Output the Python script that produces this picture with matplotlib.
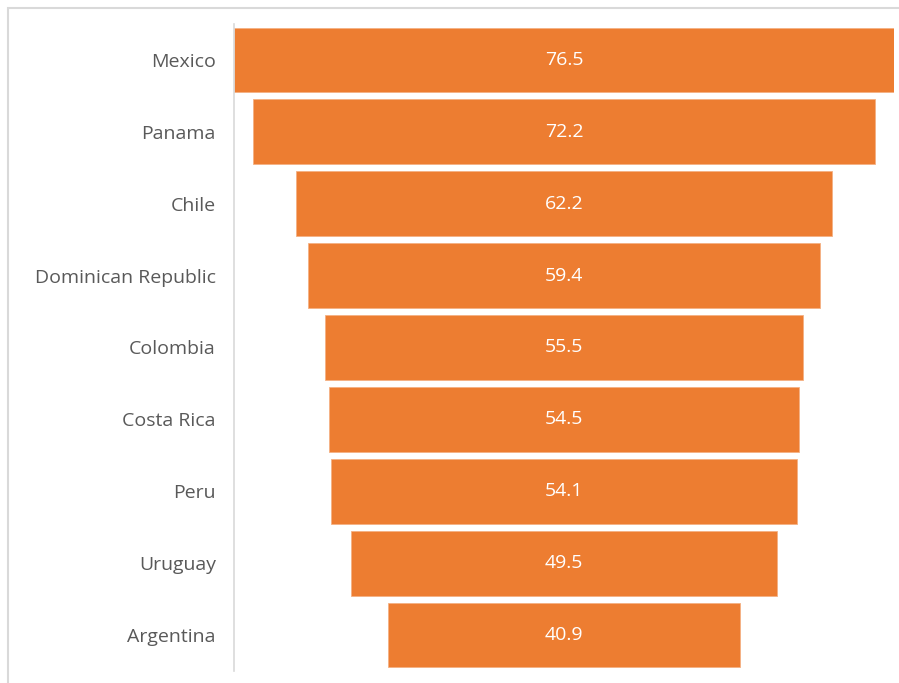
import matplotlib
matplotlib.use("Agg")
import matplotlib.pyplot as plt
from matplotlib.patches import Rectangle

countries = ["Mexico", "Panama", "Chile", "Dominican Republic", "Colombia",
             "Costa Rica", "Peru", "Uruguay", "Argentina"]
values = [76.5, 72.2, 62.2, 59.4, 55.5, 54.5, 54.1, 49.5, 40.9]

plt.rcParams['font.family'] = ['Open Sans', 'DejaVu Sans']

fig = plt.figure(figsize=(8.99, 6.83), dpi=100)
fig.patches.append(Rectangle((8/899, -0.05), 1.1, 1.05 - 8/683, transform=fig.transFigure,
                             fill=False, edgecolor="#d9d9d9", linewidth=1.5))
ax = fig.add_axes([234/899, 1 - 671/683, (894 - 234)/899, (671 - 24)/683])

ypos = list(range(len(countries)))
lefts = [-v / 2 for v in values]
ax.barh(ypos, values, left=lefts, height=0.9, color="#ed7d31",
        edgecolor="#f4b183", linewidth=0.6)
for y, v in zip(ypos, values):
    ax.text(0, y, f"{v}", ha="center", va="center", color="white", fontsize=14)

ax.set_xlim(-38.3, 38.3)
ax.set_ylim(len(countries) - 0.5, -0.5)
ax.set_yticks(ypos)
ax.set_yticklabels(countries, fontsize=14, color="#595959")
ax.set_xticks([])
ax.tick_params(axis="y", length=0, pad=13)
for s in ["top", "right", "bottom"]:
    ax.spines[s].set_visible(False)
ax.spines["left"].set_color("#d9d9d9")
ax.spines["left"].set_linestyle((0, (4, 1)))
ax.spines["left"].set_linewidth(1.2)

fig.savefig("out.png", dpi=100)
